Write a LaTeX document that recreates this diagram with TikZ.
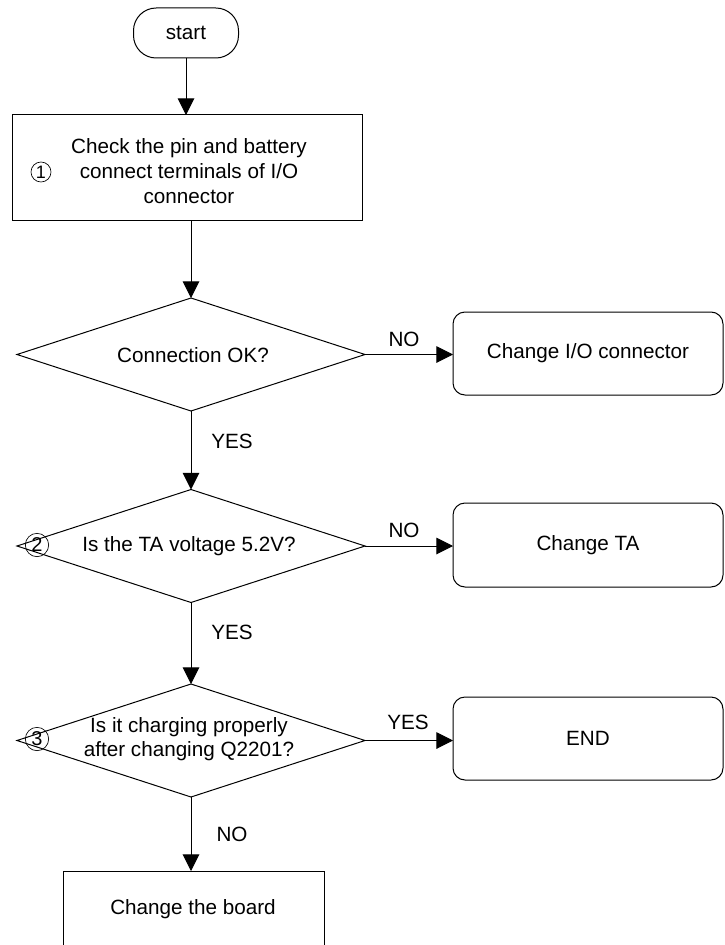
\documentclass[tikz,border=0pt]{standalone}
\usepackage{fontspec}
\setmainfont{Liberation Sans}
\usetikzlibrary{shapes.geometric,arrows.meta}
\begin{document}
\begin{tikzpicture}[x=0.75pt,y=-0.75pt,line width=0.75pt,
  every node/.style={font=\fontsize{15.5}{18.5}\selectfont,inner sep=0pt,outer sep=0pt},
  termbox/.style={draw,rectangle,rounded corners=17pt,minimum width=78.75pt,minimum height=37.5pt},
  procbox/.style={draw,rectangle},
  roundbox/.style={draw,rectangle,rounded corners=9pt,minimum width=202.5pt},
  decision/.style={draw,diamond,minimum width=261pt,minimum height=84.75pt},
  circnum/.style={draw,circle,line width=0.5pt,minimum size=17.5pt,font=\fontsize{15}{15}\selectfont},
  lbl/.style={font=\fontsize{15.5}{18.5}\selectfont},
  arr/.style={-{Triangle[length=12.5pt,width=12.5pt]}},
]
\useasboundingbox (0,0) rectangle (724,945);
\clip (0,0) rectangle (724,945);

% start
\node[termbox] (start) at (186,33) {start};

% step 1
\node[procbox,minimum width=262.5pt,minimum height=78.75pt] (b1) at (187,167.5) {};
\node[align=center] (b1t) at (189,171) {Check the pin and battery\\connect terminals of I/O\\connector};
\node[circnum,minimum size=15pt,font=\fontsize{13.5}{14}\selectfont] (n1) at (41,172) {1};

% decision 1
\node[decision] (d1) at (191,354.5) {};
\node (d1t) at (193,355) {Connection OK?};
\node[roundbox,minimum height=62.25pt] (io) at (588,353.5) {Change I/O connector};

% decision 2
\node[decision] (d2) at (191,546) {};
\node (d2t) at (189,546) {Is the TA voltage 5.2V?};
\node[circnum] (n2) at (37,545) {2};
\node[roundbox,minimum height=63pt] (ta) at (588,545) {Change TA};

% decision 3
\node[decision] (d3) at (191,740.5) {};
\node[align=center] (d3t) at (189,739) {Is it charging properly\\after changing Q2201?};
\node[circnum] (n3) at (37,739) {3};
\node[roundbox,minimum height=62.25pt] (fin) at (588,738.5) {END};

% final box
\node[procbox,minimum width=195.75pt,minimum height=120pt] (fb) at (193.5,951) {};
\node (fbt) at (193,909) {Change the board};

% connectors
\draw[arr] (start.south) -- (start.south |- b1.north);
\draw[arr] (b1.south -| d1.north) -- (d1.north);
\draw[arr] (d1.east) -- (d1.east -| io.west);
\draw[arr] (d1.south) -- (d2.north);
\draw[arr] (d2.east) -- (d2.east -| ta.west);
\draw[arr] (d2.south) -- (d3.north);
\draw[arr] (d3.east) -- (d3.east -| fin.west);
\draw[arr] (d3.south) -- (d3.south |- fb.north);

% labels
\node[lbl] (l1) at (404,339) {NO};
\node[lbl] (l2) at (232,441) {YES};
\node[lbl] (l3) at (404,530) {NO};
\node[lbl] (l4) at (232,632) {YES};
\node[lbl] (l5) at (408,722) {YES};
\node[lbl] (l6) at (232,834) {NO};
\end{tikzpicture}
\end{document}
